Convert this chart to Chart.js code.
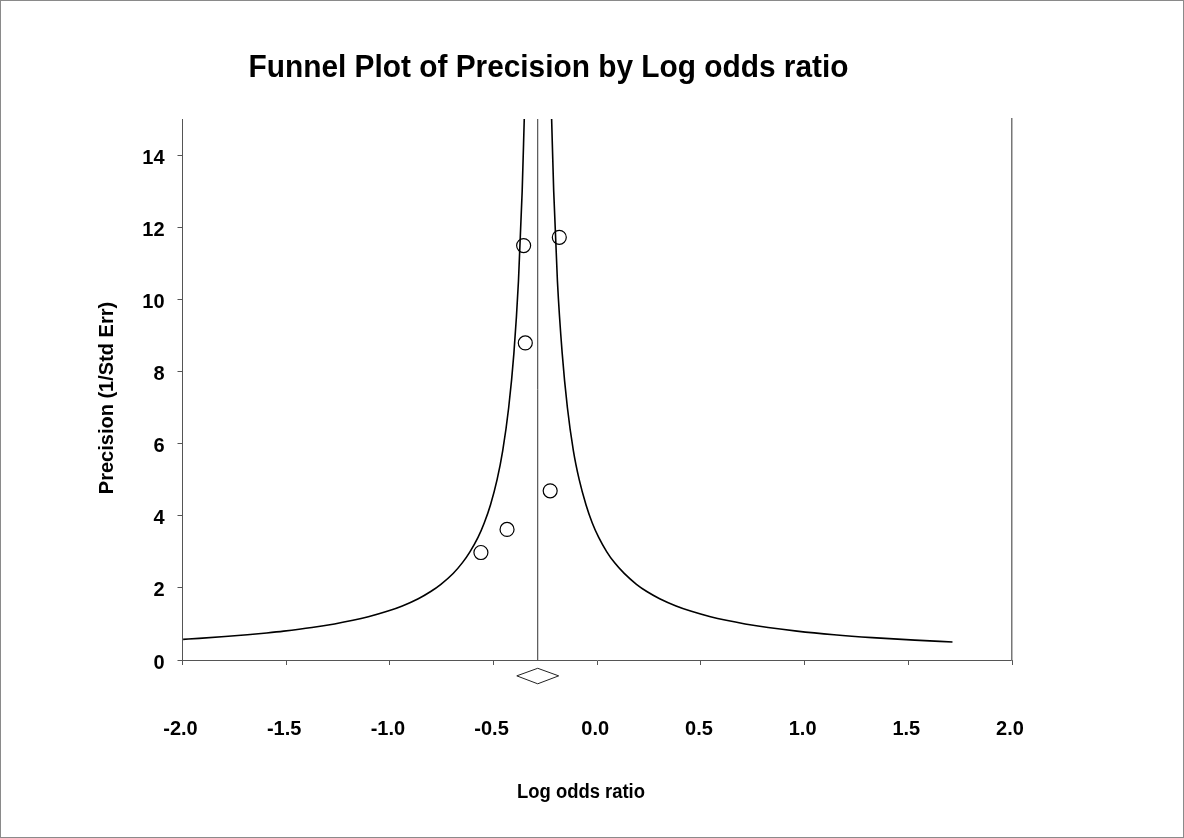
<!DOCTYPE html>
<html>
<head>
<meta charset="utf-8">
<script src="https://cdn.jsdelivr.net/npm/chart.js@4.4.1/dist/chart.umd.min.js"></script>
<style>
    html, body { margin: 0; padding: 0; background: #fff; }
    #wrap   { position: relative; width: 1184px; height: 838px; }
    #wrap canvas { position: absolute; left: 0; top: 0; }
    #frame  { position: absolute; left: 0; top: 0; right: 0; bottom: 0; border: 1px solid #8a8a8a; pointer-events: none; }
</style>
</head>
<body>
<div id="wrap">
    <canvas id="funnelCanvas" width="1184" height="838"></canvas>
    <div id="frame"></div>
</div>
<script>
/* ── Data ── */

const chartTitle = 'Funnel Plot of Precision by Log odds ratio';
const xTitle     = 'Log odds ratio';
const yTitle     = 'Precision (1/Std Err)';

const xTicks = [-2.0, -1.5, -1.0, -0.5, 0.0, 0.5, 1.0, 1.5, 2.0];
const yTicks = [0, 2, 4, 6, 8, 10, 12, 14];

// individual studies
const studyLogOR     = [-0.355, -0.183, -0.347, -0.227, -0.435, -0.561];
const studyPrecision = [11.49, 11.72, 8.79, 4.69, 3.62, 2.98];

// pooled estimate and its confidence interval (diamond)
const pooledEstimate = -0.287;
const pooledLower    = -0.388;
const pooledUpper    = -0.186;

// funnel limits, left side
const leftPrecision = [0.573, 0.6, 0.65, 0.7, 0.75, 0.8, 0.9, 1.0, 1.1, 1.2, 1.35, 1.5, 1.7, 1.9,
                       2.1, 2.4, 2.7, 3.0, 3.4, 3.8, 4.3, 5.0, 5.8, 7.0, 8.5, 10.5, 13, 15];
const leftLogOR     = [-1.997, -1.920, -1.795, -1.687, -1.594, -1.512, -1.376, -1.267, -1.178, -1.104,
                       -1.013, -0.940, -0.863, -0.803, -0.754, -0.695, -0.650, -0.614, -0.575, -0.545,
                       -0.515, -0.483, -0.456, -0.427, -0.402, -0.380, -0.362, -0.352];

// funnel limits, right side
const rightPrecision = [15, 13, 10.5, 8.5, 7.0, 5.8, 5.0, 4.3, 3.8, 3.4, 3.0, 2.7, 2.4, 2.1,
                        1.9, 1.7, 1.5, 1.35, 1.2, 1.1, 1.0, 0.9, 0.8, 0.7, 0.62, 0.55, 0.5];
const rightLogOR     = [-0.220, -0.210, -0.192, -0.169, -0.144, -0.115, -0.087, -0.054, -0.024, 0.007,
                        0.046, 0.083, 0.130, 0.189, 0.239, 0.301, 0.380, 0.454, 0.546, 0.622,
                        0.713, 0.824, 0.963, 1.142, 1.326, 1.531, 1.713];

/* ── Chart ── */

const FONT  = '"Liberation Sans", Arial, sans-serif';
const AXIS  = '#555555';
const toPts = (xs, ys) => xs.map((x, i) => ({ x, y: ys[i] }));

// bold text squeezed to a given width, like the original's narrow rendering
function drawSqueezed(ctx, text, x, y, size, width, angle) {
    ctx.save();
    ctx.font = `bold ${size}px ${FONT}`;
    ctx.textAlign = 'center';
    ctx.textBaseline = 'middle';
    ctx.fillStyle = '#000';
    const sx = Math.min(1, width / ctx.measureText(text).width);
    ctx.translate(x, y);
    if (angle) ctx.rotate(angle);
    ctx.scale(sx, 1);
    ctx.fillText(text, 0, 0);
    ctx.restore();
}

const titles = {
    id: 'titles',
    afterDraw(chart) {
        const ctx = chart.ctx;
        drawSqueezed(ctx, chartTitle, 548.5, 68, 32, 600);
        drawSqueezed(ctx, xTitle, 581, 792.5, 20, 128);
        drawSqueezed(ctx, yTitle, 107, 398, 20, 198, -Math.PI / 2);
    },
};

const noPad = s => { s.paddingLeft = 0; s.paddingRight = 0; s.paddingTop = 0; s.paddingBottom = 0; };

new Chart(document.getElementById('funnelCanvas').getContext('2d'), {
    type: 'scatter',
    data: {
        datasets: [
            {
                label: 'Studies',
                data: toPts(studyLogOR, studyPrecision),
                showLine: false,
                pointStyle: 'circle',
                pointRadius: 7,
                pointBorderWidth: 1.2,
                borderColor: '#000',
                backgroundColor: 'rgba(0,0,0,0)',
                order: 0,
            },
            {
                label: 'Lower limit',
                data: toPts(leftLogOR, leftPrecision),
                showLine: true,
                pointRadius: 0,
                borderWidth: 1.6,
                borderColor: '#000',
                cubicInterpolationMode: 'monotone',
                order: 1,
            },
            {
                label: 'Upper limit',
                data: toPts(rightLogOR, rightPrecision),
                showLine: true,
                pointRadius: 0,
                borderWidth: 1.6,
                borderColor: '#000',
                cubicInterpolationMode: 'monotone',
                order: 1,
            },
            {
                label: 'Pooled',
                data: [{ x: pooledEstimate, y: 0 }, { x: pooledEstimate, y: 15 }],
                showLine: true,
                pointRadius: 0,
                borderWidth: 1,
                borderColor: '#333',
                order: 2,
            },
            {
                label: 'Diamond',
                data: [
                    { x: pooledLower,    y: -0.44 },
                    { x: pooledEstimate, y: -0.23 },
                    { x: pooledUpper,    y: -0.44 },
                    { x: pooledEstimate, y: -0.66 },
                    { x: pooledLower,    y: -0.44 },
                ],
                showLine: true,
                pointRadius: 0,
                borderWidth: 1,
                borderColor: '#222',
                clip: false,
                order: 2,
            },
        ],
    },
    options: {
        responsive: false,
        animation: false,
        layout: { padding: { top: 119, left: 85, right: 172, bottom: 0 } },
        plugins: {
            legend:  { display: false },
            tooltip: { enabled: false },
            title:   { display: false },
        },
        scales: {
            x: {
                type: 'linear',
                min: -2, max: 2,
                afterBuildTicks: s => { s.ticks = xTicks.map(v => ({ value: v })); },
                afterFit: s => { s.height = 178; noPad(s); },
                ticks: {
                    callback: v => v.toFixed(1),
                    color: '#000',
                    font: { family: FONT, size: 20, weight: 'bold' },
                    padding: 52,
                    labelOffset: -2,
                    maxRotation: 0,
                    autoSkip: false,
                },
                grid:   { drawOnChartArea: false, tickLength: 5, color: AXIS },
                border: { color: AXIS, width: 1 },
            },
            y: {
                type: 'linear',
                min: 0, max: 15,
                afterBuildTicks: s => { s.ticks = yTicks.map(v => ({ value: v })); },
                afterFit: s => { s.width = 97.5; noPad(s); },
                ticks: {
                    callback: v => String(v),
                    color: '#000',
                    font: { family: FONT, size: 20, weight: 'bold' },
                    padding: 13,
                    labelOffset: 3,
                    autoSkip: false,
                },
                grid:   { drawOnChartArea: false, tickLength: 5, color: AXIS },
                border: { color: AXIS, width: 1 },
            },
            y2: {
                type: 'linear',
                position: 'right',
                min: 0, max: 15,
                afterFit: s => { s.width = 0; noPad(s); },
                ticks:  { display: false },
                grid:   { display: false },
                border: { display: true, color: '#777', width: 1.5 },
            },
        },
    },
    plugins: [titles],
});
</script>
</body>
</html>
